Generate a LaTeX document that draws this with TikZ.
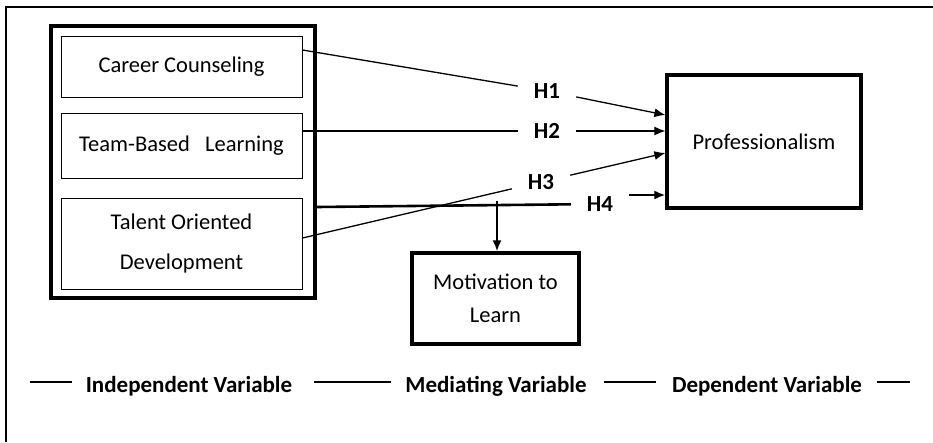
\documentclass[tikz,border=0pt]{standalone}
\usepackage{fontspec}
\setmainfont{Carlito}
\usetikzlibrary{arrows.meta}

\begin{document}
\begin{tikzpicture}[x=1pt,y=-1pt,
	varbox/.style={draw, line width=1pt, inner sep=0pt, align=center, font=\fontsize{22.5}{40}\selectfont},
	bigbox/.style={draw, line width=3.2pt, inner sep=0pt, align=center, font=\fontsize{22.5}{33}\selectfont},
	hyp/.style={inner sep=0pt, minimum width=58pt, minimum height=22pt, font=\fontsize{23}{26}\selectfont\bfseries},
	legend/.style={font=\fontsize{23}{26}\selectfont\bfseries},
	link/.style={line width=1.3pt},
	every path/.style={>={Latex[length=11pt,width=9pt]}}]

		\useasboundingbox (0,0) rectangle (933,442);
		\draw[line width=1.2pt] (6,442) -- (6,7) -- (933,7);

		% Independent variables
		\node[bigbox, minimum width=264pt, minimum height=272pt] (group) at (183,162) {};
		\node[varbox, minimum width=241pt, minimum height=61pt] (career) at (181.5,66.5) {Career Counseling};
		\node[varbox, minimum width=241pt, minimum height=65pt] (team) at (181.5,145.5) {Team-Based\ \ \ Learning};
		\node[varbox, minimum width=241pt, minimum height=91pt] (talent) at (181.5,243.5) {Talent Oriented\\Development};

		% Dependent and mediating variables
		\node[bigbox, minimum width=194pt, minimum height=133pt] (prof) at (764,141.5) {Professionalism};
		\node[bigbox, minimum width=167pt, minimum height=91pt] (motiv) at (495.5,298.5) {Motivation to\\Learn};

		% Hypotheses
		\node[hyp] (h1) at (547,91) {H1};
		\node[hyp] (h2) at (547,131) {H2};
		\node[hyp] (h3) at (541,182) {H3};
		\node[hyp] (h4) at (600,204) {H4};

		\draw[link] ([yshift=16.5pt]career.east) -- (h1);
		\draw[link,->] (h1) -- ([yshift=26.5pt]prof.west);
		\draw[link] ([yshift=14.5pt]team.east) -- (h2);
		\draw[link,->] (h2) -- ([yshift=10.5pt]prof.west);
		\draw[link] ([yshift=5.5pt]talent.east) -- (h3);
		\draw[link,->] (h3) -- ([yshift=-11.5pt]prof.west);
		\draw[line width=2.6pt] ([yshift=-45pt]group.east) -- (h4);
		\draw[line width=2pt,->] ([yshift=9pt]h4.east) -- ([yshift=-53.5pt]prof.west);

		\coordinate (split) at (497,201);
		\draw[line width=2pt,->] (split) -- (motiv.north -| split);

		% Legend
		\node[legend] (indep) at (189,386) {Independent Variable};
		\node[legend] (med) at (496,386) {Mediating Variable};
		\node[legend] (dep) at (767,386) {Dependent Variable};
		\foreach \a/\b in {30/72,314/391,604/656,877/910}
		\draw[line width=1.2pt] (\a,382) -- (\b,382);
\end{tikzpicture}
\end{document}
